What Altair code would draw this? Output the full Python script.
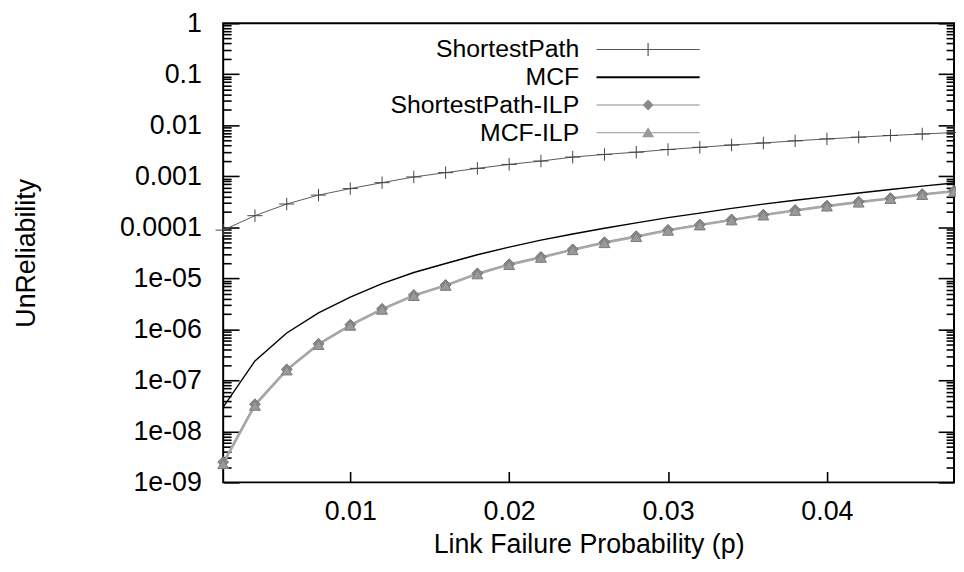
import altair as alt
import pandas as pd

# ---------------- data ----------------
p_values = [0.002, 0.004, 0.006, 0.008, 0.010, 0.012, 0.014, 0.016, 0.018, 0.020, 0.022, 0.024,
            0.026, 0.028, 0.030, 0.032, 0.034, 0.036, 0.038, 0.040, 0.042, 0.044, 0.046, 0.048]

series_names = ["ShortestPath", "MCF", "ShortestPath-ILP", "MCF-ILP"]

shortest_path = [8.8e-5, 1.69e-4, 2.86e-4, 4.28e-4, 5.74e-4, 7.5e-4, 9.7e-4, 1.18e-3, 1.43e-3, 1.71e-3,
                 1.99e-3, 2.38e-3, 2.68e-3, 2.97e-3, 3.35e-3, 3.7e-3, 4.1e-3, 4.5e-3, 4.95e-3, 5.4e-3,
                 5.85e-3, 6.3e-3, 6.75e-3, 7.2e-3]

mcf = [3.0e-8, 2.4e-7, 8.5e-7, 2.1e-6, 4.3e-6, 7.9e-6, 1.3e-5, 1.95e-5, 2.9e-5, 4.1e-5,
       5.6e-5, 7.4e-5, 9.6e-5, 1.22e-4, 1.55e-4, 1.9e-4, 2.35e-4, 2.85e-4, 3.4e-4, 4.0e-4,
       4.7e-4, 5.5e-4, 6.4e-4, 7.4e-4]

shortest_path_ilp = [2.5e-9, 3.4e-8, 1.64e-7, 5.2e-7, 1.23e-6, 2.52e-6, 4.7e-6, 7.4e-6, 1.25e-5, 1.89e-5,
                     2.62e-5, 3.7e-5, 5.1e-5, 6.7e-5, 8.9e-5, 1.13e-4, 1.42e-4, 1.77e-4, 2.18e-4, 2.65e-4,
                     3.17e-4, 3.73e-4, 4.47e-4, 5.2e-4]

mcf_ilp = [2.3e-9, 3.2e-8, 1.58e-7, 5.0e-7, 1.19e-6, 2.45e-6, 4.55e-6, 7.2e-6, 1.21e-5, 1.84e-5,
           2.55e-5, 3.6e-5, 4.95e-5, 6.5e-5, 8.65e-5, 1.1e-4, 1.38e-4, 1.72e-4, 2.12e-4, 2.58e-4,
           3.08e-4, 3.63e-4, 4.35e-4, 5.05e-4]

x_tick_values = [0.01, 0.02, 0.03, 0.04]
y_major_ticks = [1e-9, 1e-8, 1e-7, 1e-6, 1e-5, 1e-4, 1e-3, 1e-2, 1e-1, 1.0]
y_all_ticks = y_major_ticks + [k * 10.0 ** e for e in range(-9, 0) for k in range(2, 10)]

# ---------------- styles ----------------
line_colors = ["#5a5a5a", "#000000", "#9a9a9a", "#a8a8a8"]
line_widths = [1.0, 2.2, 1.6, 1.6]
marker_series = ["ShortestPath", "ShortestPath-ILP", "MCF-ILP"]
marker_shapes = ["M-1.4,0H1.4M0,-1.15V1.15", "diamond", "triangle-up"]
marker_fills = ["#444444", "#8c8c8c", "#999999"]
marker_strokes = ["#444444", "#707070", "#7a7a7a"]

# legend symbols: a line sample drawn to the right of the (right-aligned) label
legend_fills = ["#555555", "#000000", "#8a8a8a", "#999999"]
legend_paths = [
    "M3,-0.05H13.4V0.05H3Z M8.14,-0.65H8.26V0.65H8.14Z",
    "M3,-0.1H13.4V0.1H3Z",
    "M3,-0.05H13.4V0.05H3Z M8.2,-0.55L8.75,0L8.2,0.55L7.65,0Z",
    "M3,-0.05H13.4V0.05H3Z M8.2,-0.55L8.8,0.45L7.6,0.45Z",
]

values = [shortest_path, mcf, shortest_path_ilp, mcf_ilp]
rows = []
for name, vals in zip(series_names, values):
    for pv, uv in zip(p_values, vals):
        rows.append({"p": pv, "u": uv, "series": name})
df = pd.DataFrame(rows)

W, H = 737, 463
FONT = "Liberation Sans"

x_scale = alt.Scale(domain=[0.002, 0.048], nice=False, zero=False)
y_scale = alt.Scale(type="log", domain=[1e-9, 1.0], nice=False)

major_test = "abs(log(datum.value)/LN10 - round(log(datum.value)/LN10)) < 0.000001"
tick_size_cond = {"condition": {"test": major_test, "value": 16}, "value": 8}

label_expr = ("datum.value >= 0.0001 ? format(datum.value, '~g') : "
              "'1e-0' + format(-round(log(datum.value)/LN10), 'd')")


def make_legend():
    return alt.Legend(title=None, orient="none", legendX=334, legendY=14,
                      symbolSize=400, symbolStrokeWidth=0,
                      labelFont=FONT, labelFontSize=25, labelAlign="right", labelOffset=0,
                      labelLimit=500, rowPadding=2, padding=0)


base = alt.Chart(df)

lines = base.mark_line().encode(
    x=alt.X("p:Q", scale=x_scale,
            axis=alt.Axis(values=x_tick_values, format=".2f", ticks=False, tickSize=0, domain=False,
                          grid=False, labelPadding=16, labelFontSize=27,
                          title="Link Failure Probability (p)", titleFontSize=27,
                          titleY=63, titleBaseline="middle")),
    y=alt.Y("u:Q", scale=y_scale,
            axis=alt.Axis(values=y_major_ticks, labelExpr=label_expr, ticks=False, tickSize=0,
                          domain=False, grid=False, labelPadding=22, labelFontSize=27,
                          title="UnReliability", titleFontSize=27, titleX=-198, titleY=H / 2,
                          titleBaseline="middle")),
    color=alt.Color("series:N", scale=alt.Scale(domain=series_names, range=line_colors), legend=None),
    strokeWidth=alt.StrokeWidth("series:N", scale=alt.Scale(domain=series_names, range=line_widths),
                                legend=None),
    detail="series:N",
)

markers = base.transform_filter(
    alt.FieldOneOfPredicate(field="series", oneOf=marker_series)
).mark_point(filled=True, size=120, opacity=1, strokeWidth=1).encode(
    x=alt.X("p:Q", scale=x_scale,
            axis=alt.Axis(orient="top", offset=-H, values=x_tick_values, labels=False, domain=False,
                          grid=False, title=None, tickSize=11, tickWidth=1.6, tickColor="black")),
    y=alt.Y("u:Q", scale=y_scale,
            axis=alt.Axis(orient="right", offset=-W, values=y_all_ticks, labels=False, domain=False,
                          grid=False, title=None, tickSize=tick_size_cond, tickWidth=1.6,
                          tickColor="black")),
    shape=alt.Shape("series:N", scale=alt.Scale(domain=marker_series, range=marker_shapes), legend=None),
    color=alt.Color("series:N", scale=alt.Scale(domain=marker_series, range=marker_fills), legend=None),
    stroke=alt.Stroke("series:N", scale=alt.Scale(domain=marker_series, range=marker_strokes), legend=None),
)

legend_layer = base.transform_filter("false").mark_point(filled=True, opacity=1).encode(
    x=alt.X("p:Q", scale=x_scale, axis=None),
    y=alt.Y("u:Q", scale=y_scale,
            axis=alt.Axis(orient="left", offset=-W, values=y_all_ticks, labels=False, domain=False,
                          grid=False, title=None, tickSize=tick_size_cond, tickWidth=1.6,
                          tickColor="black")),
    shape=alt.Shape("series:N", scale=alt.Scale(domain=series_names, range=legend_paths),
                    legend=make_legend()),
    color=alt.Color("series:N", scale=alt.Scale(domain=series_names, range=legend_fills),
                    legend=make_legend()),
)

chart = alt.layer(lines, markers, legend_layer).resolve_scale(
    color="independent", shape="independent", stroke="independent", strokeWidth="independent"
).resolve_axis(
    x="independent", y="independent"
).properties(
    width=W, height=H,
    autosize=alt.AutoSizeParams(type="none"),
    padding={"left": 217, "top": 13, "right": 2, "bottom": 88},
).configure_view(
    stroke="black", strokeWidth=2
).configure_axis(
    labelFont=FONT, titleFont=FONT, labelColor="black", titleColor="black",
    titleFontWeight="normal"
)

chart.save("out.html", embed_options={"renderer": "svg", "actions": False})
